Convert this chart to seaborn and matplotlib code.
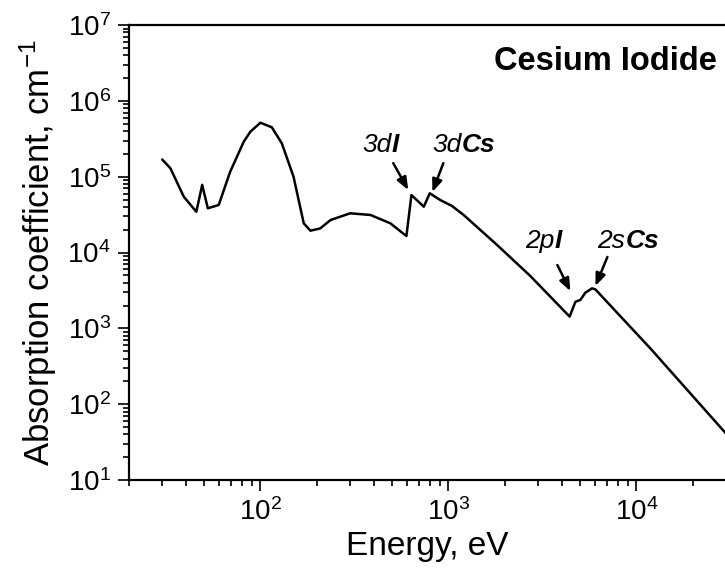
import matplotlib
matplotlib.use("Agg")
import matplotlib.pyplot as plt
import seaborn as sns
import pandas as pd

# Photon energy (eV) and linear absorption coefficient (cm^-1) of CsI
energy = [30, 33.2, 39.1, 45.6, 49, 52.5, 60, 69, 81.5, 88.4, 100, 115, 130,
          150, 170, 184.5, 208, 236, 300, 385, 491, 598, 636, 740, 796, 906,
          1047, 1205, 1815, 2730, 4416, 4740, 5040, 5350, 5810, 6050, 11860,
          30000]
absorption = [1.69e5, 1.29e5, 5.45e4, 3.45e4, 7.8e4, 3.83e4, 4.24e4, 1.16e5,
              2.89e5, 3.92e5, 5.15e5, 4.48e5, 2.75e5, 1.0e5, 2.43e4, 1.94e4,
              2.08e4, 2.68e4, 3.29e4, 3.13e4, 2.43e4, 1.65e4, 5.73e4, 4.02e4,
              6.04e4, 4.92e4, 4.1e4, 3.13e4, 1.26e4, 4.9e3, 1.43e3, 2.24e3,
              2.37e3, 2.95e3, 3.37e3, 3.27e3, 546, 41]

df = pd.DataFrame({"energy": energy, "absorption": absorption})

sns.set_style("ticks")
plt.rcParams["font.family"] = ["Liberation Sans", "DejaVu Sans"]
plt.rcParams["mathtext.fontset"] = "custom"
plt.rcParams["mathtext.rm"] = "Liberation Sans"
plt.rcParams["mathtext.it"] = "Liberation Sans:italic"
plt.rcParams["mathtext.bf"] = "Liberation Sans:bold"
plt.rcParams["text.color"] = "black"
plt.rcParams["axes.labelcolor"] = "black"
plt.rcParams["xtick.color"] = "black"
plt.rcParams["ytick.color"] = "black"

fig = plt.figure(figsize=(7.25, 5.81), dpi=100)
ax = fig.add_axes([0.178, 0.1738, 0.8234, 0.7831])

sns.lineplot(data=df, x="energy", y="absorption", ax=ax, color="black",
             linewidth=1.8, sort=False, estimator=None)

ax.set_xscale("log")
ax.set_yscale("log")
ax.set_xlim(20, 30000)
ax.set_ylim(10, 1e7)

for side in ["left", "bottom", "top", "right"]:
    ax.spines[side].set_visible(True)
    ax.spines[side].set_linewidth(1.6)
    ax.spines[side].set_color("black")

ax.tick_params(which="major", direction="out", length=8, width=1.2,
               labelsize=20, colors="black", pad=5)
ax.tick_params(which="minor", direction="out", length=4.5, width=1.2,
               colors="black")
ax.tick_params(top=False, right=False, which="both")

ax.set_xlabel("Energy, eV", fontsize=24, labelpad=4, color="black")
ax.set_ylabel(r"Absorption coefficient, cm$^{-1}$", fontsize=25, labelpad=6,
              color="black")

ax.text(0.985, 0.919, "Cesium Iodide", transform=ax.transAxes, ha="right",
        va="center", fontsize=23.5, fontweight="bold", color="black")

# Edge labels: orbital in italic, element in bold italic
edge_labels = [
    ("3d", "I", 498, 2.13e5),
    ("3d", "Cs", 1172, 2.13e5),
    ("2p", "I", 3664, 1.15e4),
    ("2s", "Cs", 8730, 1.15e4),
]
for orbital, element, x, y in edge_labels:
    ax.text(x, y, orbital, ha="right", va="baseline", fontsize=19,
            fontstyle="italic", color="black")
    ax.text(x, y, element, ha="left", va="baseline", fontsize=19,
            fontstyle="italic", fontweight="bold", color="black")

# Arrows pointing at the absorption edges
edge_arrows = [
    ((509, 1.51e5), (612, 6.67e4)),
    ((940, 1.51e5), (822, 6.28e4)),
    ((3800, 6.84e3), (4457, 3.1e3)),
    ((7014, 8.73e3), (6054, 3.61e3)),
]
for tail, head in edge_arrows:
    ax.annotate("", xy=head, xytext=tail,
                arrowprops=dict(arrowstyle="-|>,head_length=0.75,head_width=0.3",
                                color="black", lw=1.8, shrinkA=0, shrinkB=0))

fig.savefig("out.png", dpi=100)
